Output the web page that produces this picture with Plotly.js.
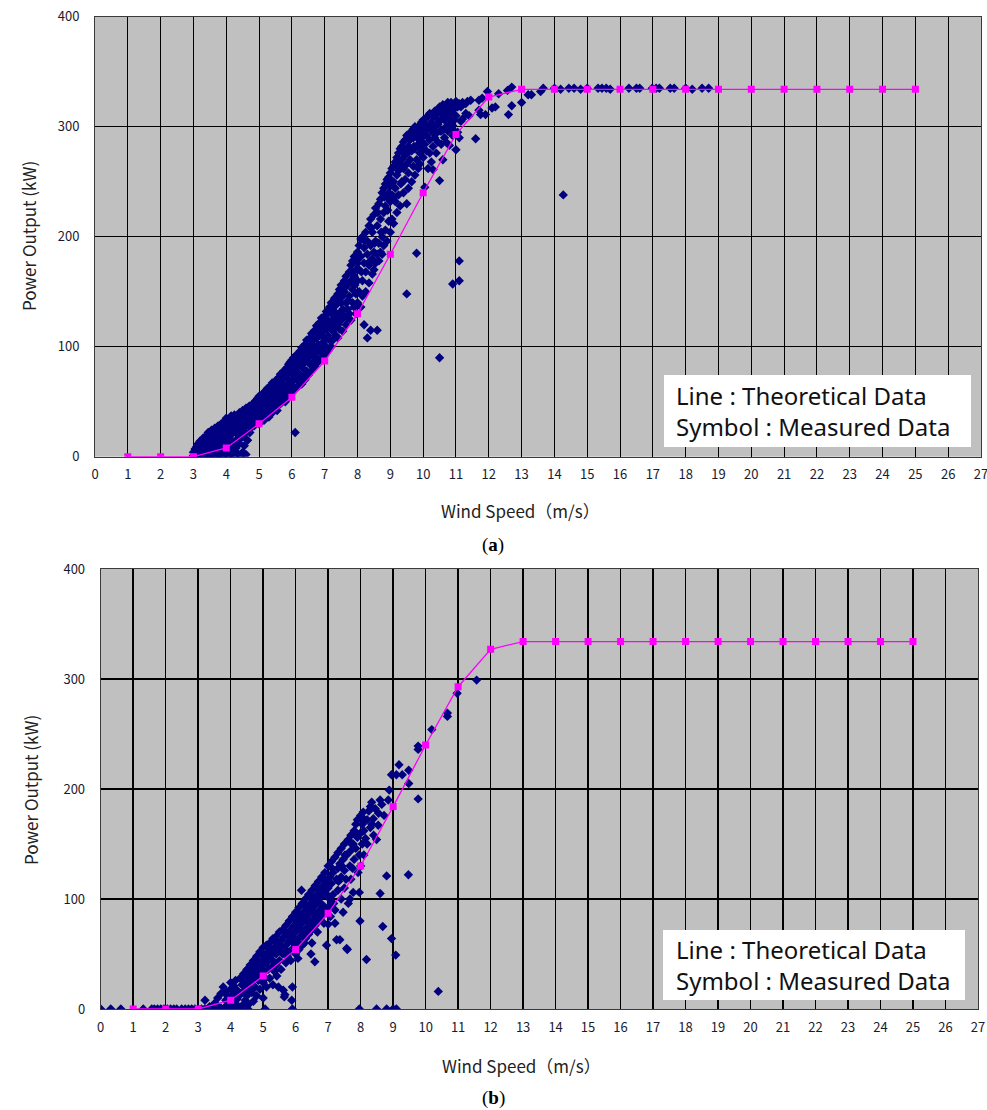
<!DOCTYPE html>
<html><head><meta charset="utf-8">
<script src="https://cdn.plot.ly/plotly-3.0.1.min.js"></script>
<style>html,body{margin:0;padding:0;background:#fff}#chart{width:987px;height:1110px}</style>
</head><body><div id="chart"></div>
<script>
// ---------- data ----------
const windTicks = [0,1,2,3,4,5,6,7,8,9,10,11,12,13,14,15,16,17,18,19,20,21,22,23,24,25,26,27];
const powerTicks = [0,100,200,300,400];
const theoryWind = [1,2,3,4,5,6,7,8,9,10,11,12,13,14,15,16,17,18,19,20,21,22,23,24,25];
const theoryPower = [0,0,0,8,30,54,87,130,184,240,293,327,334,334,334,334,334,334,334,334,334,334,334,334,334];

// (a) measured data: [wind speed, power]
const measuredA = [
[3.00,1],[3.00,4],[3.05,0],[3.05,7],[3.10,3],[3.10,9],[3.15,1],[3.15,6],[3.15,12],[3.20,0],[3.20,4],[3.20,14],
[3.25,8],[3.25,2],[3.30,11],[3.30,5],[3.30,17],[3.35,0],[3.35,14],[3.40,3],[3.40,9],[3.40,19],[3.45,6],[3.45,22],[3.45,1],
[3.50,12],[3.50,17],[3.50,0],[3.55,4],[3.55,24],[3.55,9],[3.60,14],[3.60,1],[3.60,20],[3.65,7],[3.65,26],[3.65,17],
[3.70,0],[3.70,11],[3.70,23],[3.75,3],[3.75,28],[3.75,16],[3.80,19],[3.80,8],[3.80,25],[3.80,1],[3.85,13],[3.85,30],[3.85,4],
[3.90,22],[3.90,0],[3.90,17],[3.95,27],[3.95,10],[3.95,32],[4.00,3],[4.00,20],[4.00,35],[4.00,14],[4.05,25],[4.05,0],[4.05,30],
[4.10,9],[4.10,18],[4.10,33],[4.15,2],[4.15,28],[4.15,37],[4.20,13],[4.20,22],[4.20,5],[4.25,31],[4.25,38],[4.25,0],
[4.30,15],[4.30,26],[4.30,8],[4.35,34],[4.35,20],[4.35,3],[4.40,40],[4.40,29],[4.40,12],[4.45,24],[4.45,36],[4.45,1],
[4.50,18],[4.50,42],[4.50,32],[4.50,4],[4.55,27],[4.55,38],[4.55,10],[4.60,44],[4.60,22],[4.60,2],[4.65,33],[4.65,40],[4.65,15],
[4.70,29],[4.70,46],[4.70,37],[4.75,26],[4.75,42],[4.75,34],[4.80,48],[4.80,31],[4.80,39],[4.85,36],[4.85,44],[4.85,28],
[4.90,51],[4.90,40],[4.90,33],[4.95,46],[4.95,37],[4.95,53],[5.00,30],[5.00,42],[5.00,49],[5.00,55],[5.05,35],[5.05,52],[5.05,45],
[5.10,57],[5.10,40],[5.10,48],[5.15,33],[5.15,54],[5.15,44],[5.20,60],[5.20,47],[5.20,38],[5.25,52],[5.25,42],[5.25,62],
[5.30,36],[5.30,57],[5.30,48],[5.35,64],[5.35,45],[5.35,53],[5.40,40],[5.40,59],[5.40,67],[5.45,50],[5.45,62],[5.45,44],
[5.50,69],[5.50,55],[5.50,47],[5.55,42],[5.55,64],[5.55,58],[5.60,72],[5.60,52],[5.60,61],[5.65,48],[5.65,67],[5.65,75],
[5.70,56],[5.70,70],[5.70,62],[5.75,78],[5.75,52],[5.75,66],[5.80,60],[5.80,73],[5.80,50],[5.85,81],[5.85,65],[5.85,57],
[5.90,70],[5.90,54],[5.90,84],[5.95,62],[5.95,77],[5.95,86],[6.00,58],[6.00,68],[6.00,82],[6.00,88],[6.05,74],[6.05,64],[6.05,90],
[6.10,22],[6.10,78],[6.10,61],[6.10,86],[6.15,70],[6.15,93],[6.15,82],[6.20,64],[6.20,88],[6.20,76],[6.25,96],[6.25,72],[6.25,83],
[6.30,66],[6.30,90],[6.30,99],[6.35,80],[6.35,73],[6.35,94],[6.40,102],[6.40,86],[6.40,70],[6.45,78],[6.45,96],[6.45,106],
[6.50,74],[6.50,90],[6.50,100],[6.55,108],[6.55,84],[6.55,96],[6.60,78],[6.60,102],[6.60,112],[6.65,92],[6.65,86],[6.65,106],
[6.70,115],[6.70,98],[6.70,82],[6.75,108],[6.75,90],[6.75,119],[6.80,86],[6.80,102],[6.80,114],[6.85,122],[6.85,96],[6.85,110],
[6.90,90],[6.90,118],[6.90,126],[6.95,104],[6.95,96],[6.95,114],[7.00,128],[7.00,92],[7.00,108],[7.00,120],[7.05,100],[7.05,132],[7.05,116],
[7.10,96],[7.10,124],[7.10,110],[7.15,136],[7.15,106],[7.15,120],[7.20,100],[7.20,130],[7.20,140],[7.25,114],[7.25,124],[7.25,106],
[7.30,144],[7.30,118],[7.30,132],[7.35,110],[7.35,138],[7.35,126],[7.40,148],[7.40,120],[7.40,108],[7.45,130],[7.45,152],[7.45,116],
[7.50,140],[7.50,124],[7.50,156],[7.55,114],[7.55,146],[7.55,134],[7.60,160],[7.60,128],[7.60,150],[7.65,120],[7.65,140],[7.65,164],
[7.70,134],[7.70,156],[7.70,126],[7.75,168],[7.75,146],[7.75,130],[7.80,124],[7.80,160],[7.80,174],[7.85,140],[7.85,152],[7.85,178],
[7.90,182],[7.90,136],[7.90,164],[7.95,148],[7.95,170],[7.95,130],[8.00,186],[8.00,140],[8.00,160],[8.00,176],[8.05,192],[8.05,150],[8.05,170],
[8.10,136],[8.10,182],[8.10,198],[8.15,160],[8.15,200],[8.15,146],[8.20,120],[8.20,176],[8.20,190],[8.25,204],[8.25,150],[8.25,168],
[8.30,108],[8.30,184],[8.30,196],[8.35,210],[8.35,158],[8.35,174],[8.40,115],[8.40,192],[8.40,216],[8.45,166],[8.45,204],[8.45,180],
[8.50,220],[8.50,186],[8.50,170],[8.55,196],[8.55,226],[8.55,176],[8.60,115],[8.60,210],[8.60,184],[8.65,230],[8.65,194],[8.65,178],
[8.70,216],[8.70,234],[8.70,186],[8.75,200],[8.75,240],[8.75,184],[8.80,222],[8.80,244],[8.80,192],[8.85,206],[8.85,248],[8.85,228],
[8.90,196],[8.90,236],[8.90,252],[8.95,214],[8.95,254],[8.95,240],[9.00,204],[9.00,232],[9.00,258],[9.00,246],[9.05,216],[9.05,262],[9.05,238],
[9.10,250],[9.10,212],[9.10,264],[9.15,232],[9.15,268],[9.15,244],[9.20,222],[9.20,256],[9.20,272],[9.25,238],[9.25,276],[9.25,260],
[9.30,228],[9.30,266],[9.30,280],[9.35,250],[9.35,282],[9.35,270],[9.40,240],[9.40,262],[9.40,286],[9.45,274],[9.45,252],[9.45,288],
[9.50,148],[9.50,230],[9.50,266],[9.50,292],[9.55,258],[9.55,282],[9.55,244],[9.60,288],[9.60,270],[9.60,294],[9.65,250],[9.65,278],[9.65,296],
[9.70,264],[9.70,290],[9.70,298],[9.75,280],[9.75,256],[9.75,300],[9.80,185],[9.80,270],[9.80,294],[9.85,284],[9.85,300],[9.85,262],
[9.90,276],[9.90,296],[9.90,266],[9.95,290],[9.95,304],[9.95,280],[10.00,272],[10.00,298],[10.00,306],[10.05,284],[10.05,302],[10.05,245],
[10.10,292],[10.10,308],[10.10,278],[10.15,262],[10.15,300],[10.15,310],[10.20,288],[10.20,312],[10.20,276],[10.25,296],[10.25,304],[10.25,268],
[10.30,261],[10.30,310],[10.30,282],[10.35,300],[10.35,314],[10.35,290],[10.40,276],[10.40,308],[10.40,294],[10.45,302],[10.45,316],[10.45,286],
[10.50,90],[10.50,251],[10.50,305],[10.50,318],[10.55,296],[10.55,312],[10.55,284],[10.60,270],[10.60,297],[10.60,320],[10.65,306],[10.65,314],[10.65,290],
[10.70,286],[10.70,318],[10.70,300],[10.75,308],[10.75,322],[10.75,296],[10.80,283],[10.80,312],[10.80,304],[10.85,316],[10.85,300],[10.85,322],
[10.90,157],[10.90,301],[10.90,315],[10.90,292],[10.95,320],[10.95,306],[10.95,296],[11.00,279],[11.00,323],[11.00,310],[11.05,295],[11.05,318],
[11.10,160],[11.10,178],[11.10,290],[11.10,321],[11.15,305],[11.15,318],[11.20,307],[11.20,322],[11.30,321],[11.30,312],[11.35,323],[11.40,310],
[11.45,324],[11.60,289],[11.70,315],[11.70,324],[11.75,311],[11.80,326],[11.90,311],[11.96,332],[12.10,317],[12.20,318],[12.30,330],
[12.57,333],[12.60,311],[12.70,319],[12.70,336],[13.00,322],[13.20,329],[13.30,329],[13.58,332],[13.66,335],[14.00,335],[14.19,334],
[14.27,238],[14.44,335],[14.60,335],[14.80,334],[15.00,335],[15.33,335],[15.45,335],[15.58,335],[15.70,334],[16.27,335],[16.50,335],
[16.60,335],[16.98,335],[17.10,335],[17.20,335],[17.53,335],[17.65,335],[18.00,335],[18.20,334],[18.50,335],[18.70,335],
[3.42,12],[3.58,19],[3.72,6],[3.88,24],[4.02,28],[4.12,24],[4.22,34],[4.32,21],[4.42,17],[4.52,38],[4.62,30],[4.72,22],
[4.82,43],[4.92,47],[5.02,38],[5.12,50],[5.22,55],[5.32,42],[5.42,63],[5.52,50],[5.62,66],[5.72,58],[5.82,75],[5.92,66],
[6.02,78],[6.12,74],[6.22,92],[6.32,84],[6.42,94],[6.52,86],[6.62,106],[6.72,94],[6.82,110],[6.92,100],[7.02,124],[7.12,118],
[7.22,134],[7.32,124],[7.42,142],[7.52,132],[7.62,154],[7.72,142],[7.82,168],[7.92,156],[8.02,180],[8.12,168],[8.22,196],[8.32,176],
[8.42,208],[8.52,194],[8.62,222],[8.72,204],[8.82,236],[8.92,224],[9.02,250],[9.12,236],[9.22,264],[9.32,248],[9.42,278],[9.52,276],
[9.62,280],[9.72,282],[9.82,290],[9.92,286],[10.02,292],[10.12,298],[10.22,300],[10.32,294],[10.42,312],[10.52,296],[10.62,308],
[10.72,310],[10.82,318],[10.92,310]
];

// (b) measured data: [wind speed, power]
const measuredB = [
[0.00,0],[0.31,0],[0.62,0],[1.31,0],[1.57,0],[1.65,0],[1.75,0],[1.85,0],[1.95,0],[2.05,0],[2.15,0],[2.25,0],[2.34,0],
[2.49,0],[2.60,0],[2.70,0],[2.80,0],[2.90,0],[3.00,0],[3.10,0],[3.20,0],[3.30,0],[3.46,0],[3.67,0],[3.80,0],[3.90,0],
[4.00,0],[4.10,0],[4.20,0],[4.30,0],[4.40,0],[4.53,0],[5.06,0],[5.90,0],[7.96,0],[8.49,0],[8.80,0],[9.00,0],[9.10,0],
[3.21,8],[3.35,2],[3.50,5],[3.60,10],[3.60,3],[3.70,14],[3.70,1],[3.77,20],[3.85,8],[3.85,16],[3.90,4],[3.90,12],
[4.00,18],[4.00,24],[4.00,6],[4.05,10],[4.05,2],[4.10,21],[4.10,14],[4.15,26],[4.15,5],[4.20,17],[4.20,9],[4.29,13],[4.29,28],
[4.35,22],[4.35,3],[4.40,32],[4.40,16],[4.45,8],[4.45,26],[4.50,36],[4.50,20],[4.50,12],[4.55,30],[4.55,4],[4.60,40],[4.60,24],
[4.65,15],[4.65,34],[4.70,44],[4.70,28],[4.70,7],[4.75,20],[4.75,38],[4.80,48],[4.80,32],[4.80,12],[4.85,26],[4.85,42],
[4.90,52],[4.90,36],[4.90,18],[4.95,44],[4.95,30],[5.00,56],[5.00,40],[5.00,10],[5.00,24],[5.05,48],[5.05,34],
[5.10,58],[5.10,42],[5.10,20],[5.15,36],[5.15,52],[5.20,60],[5.20,46],[5.20,28],[5.25,54],[5.25,38],[5.30,64],[5.30,44],[5.30,22],
[5.35,56],[5.35,34],[5.40,66],[5.40,50],[5.40,40],[5.47,20],[5.47,60],[5.50,70],[5.50,54],[5.50,44],[5.55,62],[5.55,36],
[5.60,72],[5.60,50],[5.62,17],[5.65,11],[5.65,66],[5.67,13],[5.70,76],[5.70,58],[5.70,42],[5.75,68],[5.75,48],
[5.80,80],[5.80,62],[5.80,52],[5.85,72],[5.85,44],[5.88,8],[5.90,20],[5.90,84],[5.90,66],[5.95,76],[5.95,56],
[6.00,88],[6.00,70],[6.00,50],[6.00,60],[6.05,80],[6.05,62],[6.10,92],[6.10,74],[6.10,54],[6.15,84],[6.15,66],[6.18,108],
[6.20,96],[6.20,78],[6.20,58],[6.25,88],[6.25,70],[6.30,100],[6.30,82],[6.30,64],[6.35,92],[6.35,74],[6.40,104],[6.40,86],[6.40,68],
[6.45,96],[6.45,78],[6.50,108],[6.50,90],[6.50,72],[6.50,60],[6.55,100],[6.55,82],[6.59,43],[6.60,112],[6.60,94],[6.60,76],
[6.65,104],[6.65,86],[6.70,116],[6.70,98],[6.70,80],[6.75,108],[6.75,90],[6.80,120],[6.80,102],[6.80,84],[6.85,112],[6.85,94],
[6.90,124],[6.90,106],[6.90,88],[6.95,116],[6.95,58],[7.00,130],[7.00,110],[7.00,92],[7.00,77],[7.05,120],[7.05,100],
[7.10,134],[7.10,114],[7.10,96],[7.15,124],[7.15,104],[7.21,90],[7.21,78],[7.21,138],[7.26,63],[7.26,118],
[7.30,142],[7.30,128],[7.30,108],[7.36,63],[7.36,132],[7.40,146],[7.40,120],[7.40,100],[7.46,88],[7.46,136],
[7.50,150],[7.50,126],[7.50,110],[7.57,55],[7.57,140],[7.59,54],[7.62,96],[7.62,154],[7.67,100],[7.67,130],
[7.70,158],[7.70,144],[7.70,118],[7.77,106],[7.77,150],[7.80,162],[7.80,136],[7.85,168],[7.85,146],[7.90,156],[7.90,172],
[7.96,106],[7.96,140],[7.98,80],[8.00,176],[8.00,160],[8.00,130],[8.05,150],[8.05,168],[8.08,179],[8.10,162],[8.10,140],
[8.18,45],[8.20,172],[8.20,150],[8.30,165],[8.30,184],[8.34,188],[8.39,173],[8.40,158],[8.49,154],[8.54,167],
[8.60,190],[8.60,105],[8.68,75],[8.80,121],[8.88,199],[8.95,64],[8.95,213],[9.08,49],[9.10,213],[9.18,222],[9.28,213],
[9.47,122],[9.48,205],[9.48,217],[9.77,191],[9.77,236],[9.77,239],[10.19,254],[10.39,16],[10.67,266],[10.67,269],[10.97,287],[11.57,299],
[4.57,18],[4.67,26],[4.77,30],[4.87,36],[4.97,50],[5.07,28],[5.17,46],[5.27,50],[5.37,62],[5.42,30],[5.57,56],[5.67,70],
[5.72,52],[5.82,70],[5.92,60],[6.02,80],[6.07,46],[6.12,86],[6.22,70],[6.27,60],[6.32,94],[6.42,78],[6.47,50],[6.52,100],
[6.62,86],[6.67,70],[6.72,108],[6.82,94],[6.87,78],[6.92,116],[7.02,102],[7.07,84],[7.12,128],[7.17,96],[7.32,116],[7.42,130],
[7.52,140],[7.55,118],[7.72,150],[7.75,128],[7.87,160],[7.92,124],[8.12,172],[8.15,155],[8.25,180],[8.35,168],[8.45,182],
[8.55,178],[8.65,186],[8.72,176],[8.85,190]
];

// ---------- layout helpers (pixel -> paper) ----------
const W = 987, H = 1110;
const px = v => v / W;
const py = v => 1 - v / H;

const measuredColor = '#000080';
const theoryColor = '#FF00FF';

function measuredTrace(data, xa, ya) {
  return {
    type: 'scatter', mode: 'markers', xaxis: xa, yaxis: ya, hoverinfo: 'skip',
    x: data.map(d => d[0]), y: data.map(d => d[1]),
    marker: {symbol: 'diamond', size: 7.2, color: measuredColor, line: {width: 0}}
  };
}
function theoryTrace(xa, ya) {
  return {
    type: 'scatter', mode: 'lines+markers', xaxis: xa, yaxis: ya, hoverinfo: 'skip',
    x: theoryWind, y: theoryPower,
    line: {color: theoryColor, width: 1.3},
    marker: {symbol: 'square', size: 7, color: theoryColor}
  };
}

const traces = [
  measuredTrace(measuredA, 'x', 'y'), theoryTrace('x', 'y'),
  measuredTrace(measuredB, 'x2', 'y2'), theoryTrace('x2', 'y2')
];

const tickFont = {family: '"Noto Sans CJK JP", "DejaVu Sans", sans-serif', size: 13, color: '#1a1a2e'};
function xAxis(domain, anchor, gridW) {
  return {
    domain: domain, anchor: anchor, range: [0, 27], tickvals: windTicks, ticktext: windTicks.map(String),
    showgrid: true, gridcolor: '#000', gridwidth: gridW, zeroline: false,
    showline: true, mirror: true, linecolor: '#3a3a3a', linewidth: 1,
    ticks: '', ticklabelstandoff: 6, ticklabeloverflow: 'allow', tickfont: tickFont, fixedrange: true
  };
}
function yAxis(domain, anchor, gridW) {
  return {
    domain: domain, anchor: anchor, range: [0, 400], tickvals: powerTicks, ticktext: powerTicks.map(String),
    showgrid: true, gridcolor: '#000', gridwidth: gridW, zeroline: false,
    showline: true, mirror: true, linecolor: '#3a3a3a', linewidth: 1,
    ticks: '', ticklabelstandoff: 12, tickfont: tickFont, fixedrange: true
  };
}

const titleFont = {family: '"Noto Sans CJK JP", "Noto Sans", sans-serif', size: 17, color: '#222'};
const legendFont = {family: '"Noto Sans", "Open Sans", sans-serif', size: 24, color: '#111'};
const legendText = 'Line : Theoretical Data<br>Symbol : Measured Data';
const capFont = {family: '"Liberation Serif", serif', size: 19, color: '#000'};

function note(x, y, text, font, angle) {
  return {xref: 'paper', yref: 'paper', x: px(x), y: py(y), xanchor: 'center', yanchor: 'middle',
          showarrow: false, text: text, font: font, textangle: angle || 0};
}

const layout = {
  width: W, height: H, margin: {l: 0, r: 0, t: 0, b: 0},
  paper_bgcolor: '#fff', plot_bgcolor: '#c0c0c0', showlegend: false,
  xaxis: xAxis([px(95), px(981)], 'y', 1),
  yaxis: yAxis([py(456.7), py(16.7)], 'x', 1),
  xaxis2: xAxis([px(100.7), px(978)], 'y2', 1.5),
  yaxis2: yAxis([py(1009), py(569)], 'x2', 1.5),
  shapes: [
    {type: 'rect', xref: 'paper', yref: 'paper', x0: px(664), x1: px(971), y0: py(447), y1: py(375), fillcolor: '#fff', line: {width: 0}, layer: 'above'},
    {type: 'rect', xref: 'paper', yref: 'paper', x0: px(663), x1: px(965), y0: py(1000), y1: py(930), fillcolor: '#fff', line: {width: 0}, layer: 'above'}
  ],
  annotations: [
    {xref: 'paper', yref: 'paper', x: px(674), y: py(411), xanchor: 'left', yanchor: 'middle', align: 'left', showarrow: false, text: legendText, font: legendFont},
    {xref: 'paper', yref: 'paper', x: px(674), y: py(965), xanchor: 'left', yanchor: 'middle', align: 'left', showarrow: false, text: legendText, font: legendFont},
    note(28, 236, 'Power Output (kW)', titleFont, -90),
    note(31, 790, 'Power Output (kW)', titleFont, -90),
    note(520, 511, 'Wind Speed（m/s）', titleFont),
    note(521, 1065, 'Wind Speed（m/s）', titleFont),
    note(493, 545, '(<b>a</b>)', capFont),
    note(493, 1098, '(<b>b</b>)', capFont)
  ]
};

Plotly.newPlot('chart', traces, layout, {displayModeBar: false, staticPlot: true});
</script>
</body></html>
